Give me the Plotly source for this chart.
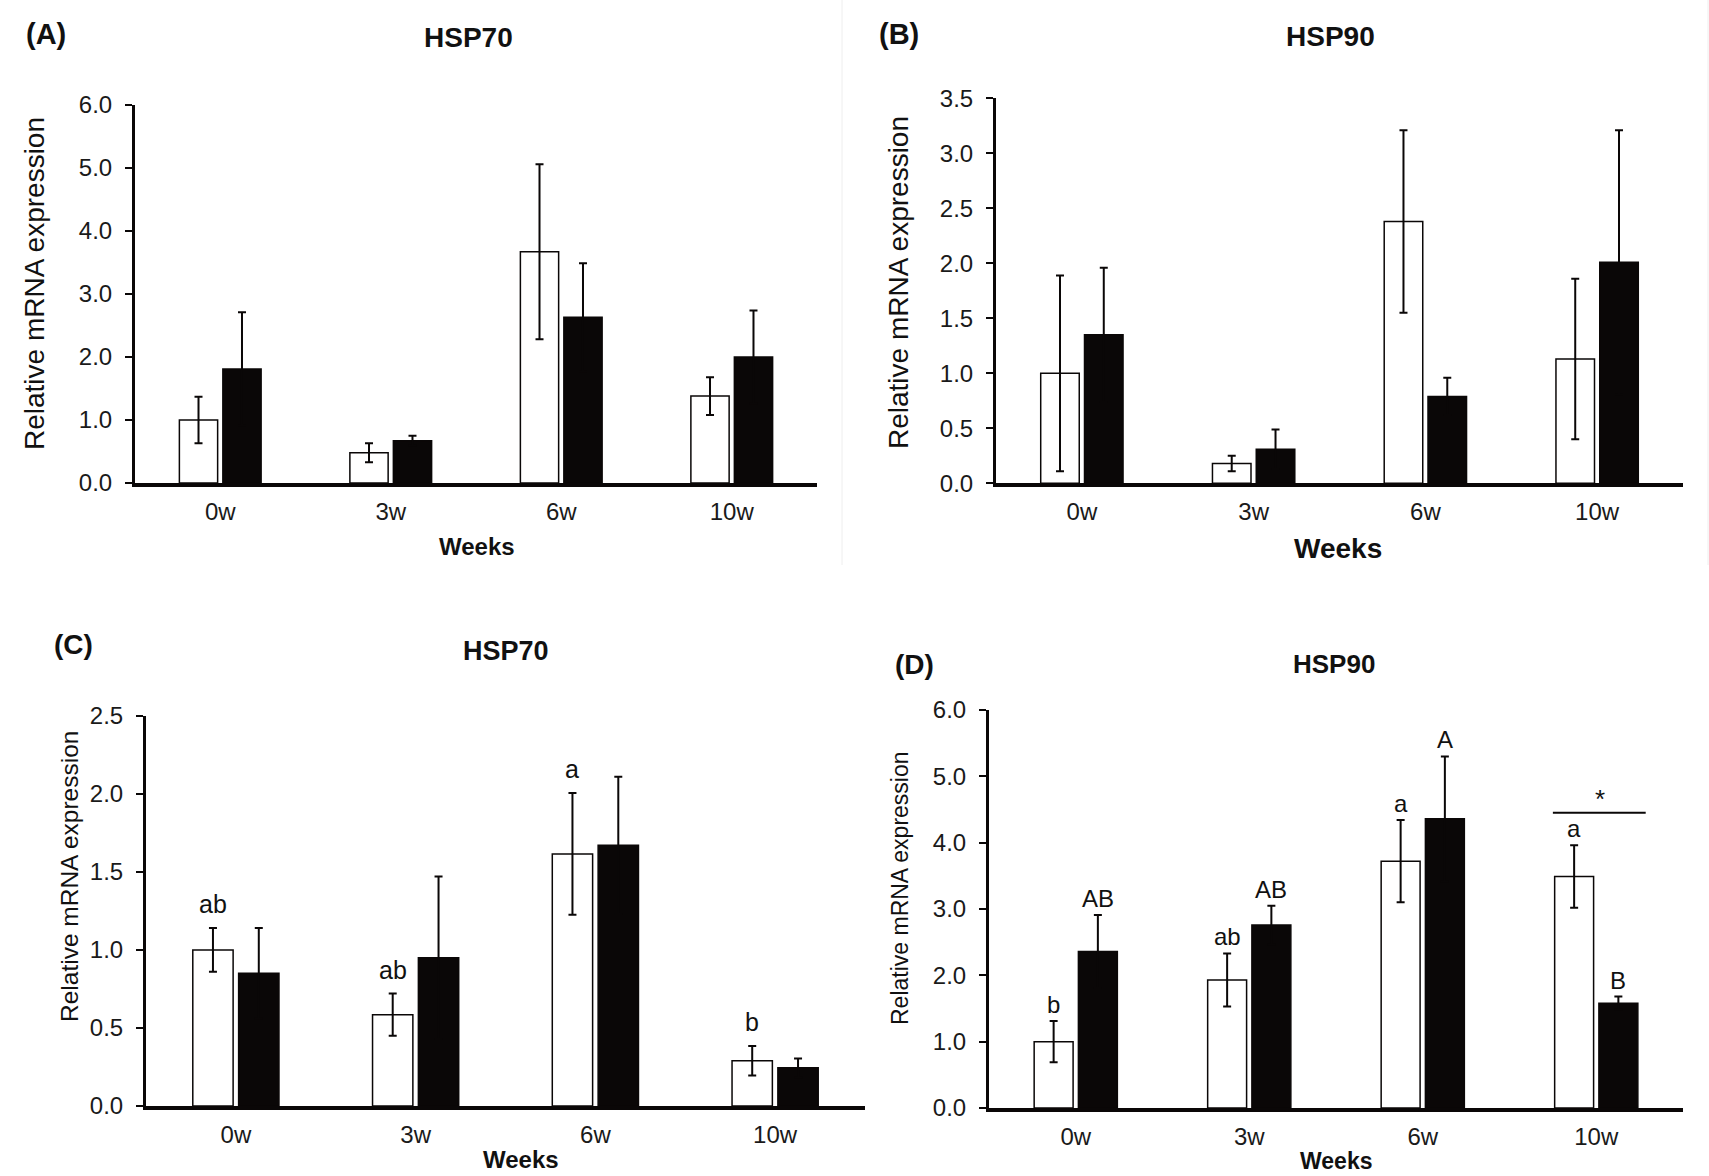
import plotly.graph_objects as go

# ---------------- data ----------------
weeks = ["0w", "3w", "6w", "10w"]

a_white = [1.00, 0.48, 3.67, 1.38]
a_white_err = [0.37, 0.15, 1.39, 0.30]
a_black = [1.81, 0.67, 2.63, 2.00]
a_black_err = [0.90, 0.08, 0.86, 0.74]

b_white = [1.00, 0.18, 2.38, 1.13]
b_white_err = [0.89, 0.07, 0.83, 0.73]
b_black = [1.35, 0.31, 0.79, 2.01]
b_black_err = [0.61, 0.18, 0.17, 1.20]

c_white = [1.00, 0.585, 1.615, 0.29]
c_white_err = [0.14, 0.135, 0.39, 0.095]
c_black = [0.85, 0.95, 1.67, 0.245]
c_black_err = [0.29, 0.52, 0.44, 0.06]
c_white_letters = ["ab", "ab", "a", "b"]

d_white = [1.00, 1.93, 3.72, 3.49]
d_white_err = [0.31, 0.40, 0.62, 0.47]
d_black = [2.36, 2.76, 4.36, 1.58]
d_black_err = [0.55, 0.29, 0.94, 0.10]
d_white_letters = ["b", "ab", "a", "a"]
d_black_letters = ["AB", "AB", "A", "B"]
d_sig_week = "10w"
d_sig_line = 4.45
d_sig_mark = "*"

panel_titles = ["HSP70", "HSP90", "HSP70", "HSP90"]
panel_tags = ["(A)", "(B)", "(C)", "(D)"]
x_title = "Weeks"
y_title = "Relative mRNA expression"

# ---------------- layout helpers ----------------
W, H = 1709, 1176
FONT = "Liberation Sans, Arial, sans-serif"
BLACK = "#0a0707"


def px(x):
    return x / W


def py(y):
    return 1 - y / H


fig = go.Figure()

panels = [
    # (suffix, white, werr, black, berr, x0, x1, ytop, ybot, yrange, dtick)
    ("", a_white, a_white_err, a_black, a_black_err, 135, 817, 105, 483, 6.0, 1.0),
    ("2", b_white, b_white_err, b_black, b_black_err, 996, 1683, 98.3, 483.3, 3.5, 0.5),
    ("3", c_white, c_white_err, c_black, c_black_err, 146, 865, 715.8, 1106, 2.5, 0.5),
    ("4", d_white, d_white_err, d_black, d_black_err, 989, 1683, 710, 1108, 6.0, 1.0),
]

for suf, wv, we, bv, be, x0, x1, yt, yb, ymax, dt in panels:
    xa = "x" + suf
    ya = "y" + suf
    fig.add_trace(go.Bar(
        x=weeks, y=wv, xaxis=xa, yaxis=ya, offsetgroup="w",
        marker=dict(color="white", line=dict(color=BLACK, width=1.5)),
        error_y=dict(type="data", array=we, visible=True, color=BLACK,
                     thickness=2, width=4),
        showlegend=False,
    ))
    fig.add_trace(go.Bar(
        x=weeks, y=bv, xaxis=xa, yaxis=ya, offsetgroup="b",
        marker=dict(color=BLACK, line=dict(color=BLACK, width=1.5)),
        error_y=dict(type="data", array=be, visible=True, color=BLACK,
                     thickness=2, width=4),
        showlegend=False,
    ))
    xkey = "xaxis" + suf
    ykey = "yaxis" + suf
    fig.layout[xkey] = dict(
        domain=[px(x0), px(x1)], anchor=ya, type="category",
        range=[-0.5, 3.5], showline=True, linecolor=BLACK, linewidth=4,
        ticks="", showgrid=False, zeroline=False, automargin=False,
        tickfont=dict(family=FONT, size=24, color="#1a1a1a"),
        ticklabelstandoff=4,
    )
    fig.layout[ykey] = dict(
        domain=[py(yb), py(yt)], anchor=xa, range=[0, ymax], dtick=dt,
        tick0=0, tickformat=".1f", showline=True, linecolor=BLACK,
        linewidth=3, ticks="outside", ticklen=7, tickwidth=2,
        tickcolor=BLACK, showgrid=False, zeroline=False, automargin=False,
        tickfont=dict(family=FONT, size=24, color="#1a1a1a"),
        ticklabelstandoff=8,
    )

fig.update_layout(
    template="none",
    width=W, height=H, margin=dict(l=0, r=0, t=0, b=0, pad=0, autoexpand=False),
    paper_bgcolor="white", plot_bgcolor="white",
    barmode="group", bargap=0.49, bargroupgap=0.12,
    showlegend=False,
)

ann = []


def txt(text, x, y, size, bold=False, angle=0):
    ann.append(dict(
        text=("<b>%s</b>" % text) if bold else text,
        x=px(x), y=py(y), xref="paper", yref="paper",
        xanchor="center", yanchor="middle", showarrow=False,
        textangle=angle, font=dict(family=FONT, size=size, color="#111111"),
    ))


# panel tags
txt(panel_tags[0], 46, 34, 29, bold=True)
txt(panel_tags[1], 899, 34, 29, bold=True)
txt(panel_tags[2], 73, 644, 28, bold=True)
txt(panel_tags[3], 914, 664, 28, bold=True)

# titles
txt(panel_titles[0], 468, 38, 28, bold=True)
txt(panel_titles[1], 1330, 36, 28, bold=True)
txt(panel_titles[2], 506, 651, 27, bold=True)
txt(panel_titles[3], 1334, 664, 26, bold=True)

# x titles
txt(x_title, 477, 546, 24, bold=True)
txt(x_title, 1338, 548, 28, bold=True)
txt(x_title, 521, 1159, 24, bold=True)
txt(x_title, 1336, 1161, 23, bold=True)

# y titles
txt(y_title, 35, 284, 28, angle=-90)
txt(y_title, 898, 283, 28, angle=-90)
txt(y_title, 69, 877, 24.5, angle=-90)
txt(y_title, 900, 888, 23, angle=-90)

# significance letters
OFF = 0.1275
for i, wk in enumerate(weeks):
    ann.append(dict(
        text=c_white_letters[i], x=i - OFF, y=c_white[i] + c_white_err[i],
        xref="x3", yref="y3", xanchor="center", yanchor="bottom",
        yshift=8, showarrow=False,
        font=dict(family=FONT, size=25, color="#111111"),
    ))
    ann.append(dict(
        text=d_white_letters[i], x=i - OFF, y=d_white[i] + d_white_err[i],
        xref="x4", yref="y4", xanchor="center", yanchor="bottom",
        yshift=1, showarrow=False,
        font=dict(family=FONT, size=24, color="#111111"),
    ))
    ann.append(dict(
        text=d_black_letters[i], x=i + OFF, y=d_black[i] + d_black_err[i],
        xref="x4", yref="y4", xanchor="center", yanchor="bottom",
        yshift=1, showarrow=False,
        font=dict(family=FONT, size=24, color="#111111"),
    ))

si = weeks.index(d_sig_week)
ann.append(dict(
    text=d_sig_mark, x=si + 0.02, y=d_sig_line, xref="x4", yref="y4",
    xanchor="center", yanchor="bottom", yshift=-3, showarrow=False,
    font=dict(family=FONT, size=26, color="#111111"),
))
fig.update_layout(annotations=ann)

shapes = [
    dict(type="line", xref="x4", yref="y4", x0=si - 0.25, x1=si + 0.285,
         y0=d_sig_line, y1=d_sig_line, line=dict(color=BLACK, width=2)),
    dict(type="line", xref="paper", yref="paper", x0=px(842), x1=px(842),
         y0=py(0), y1=py(565), line=dict(color="#eeeeee", width=1)),
    dict(type="line", xref="paper", yref="paper", x0=px(1708), x1=px(1708),
         y0=py(0), y1=py(565), line=dict(color="#eeeeee", width=1)),
]
fig.update_layout(shapes=shapes)

fig.write_html("out.html")
